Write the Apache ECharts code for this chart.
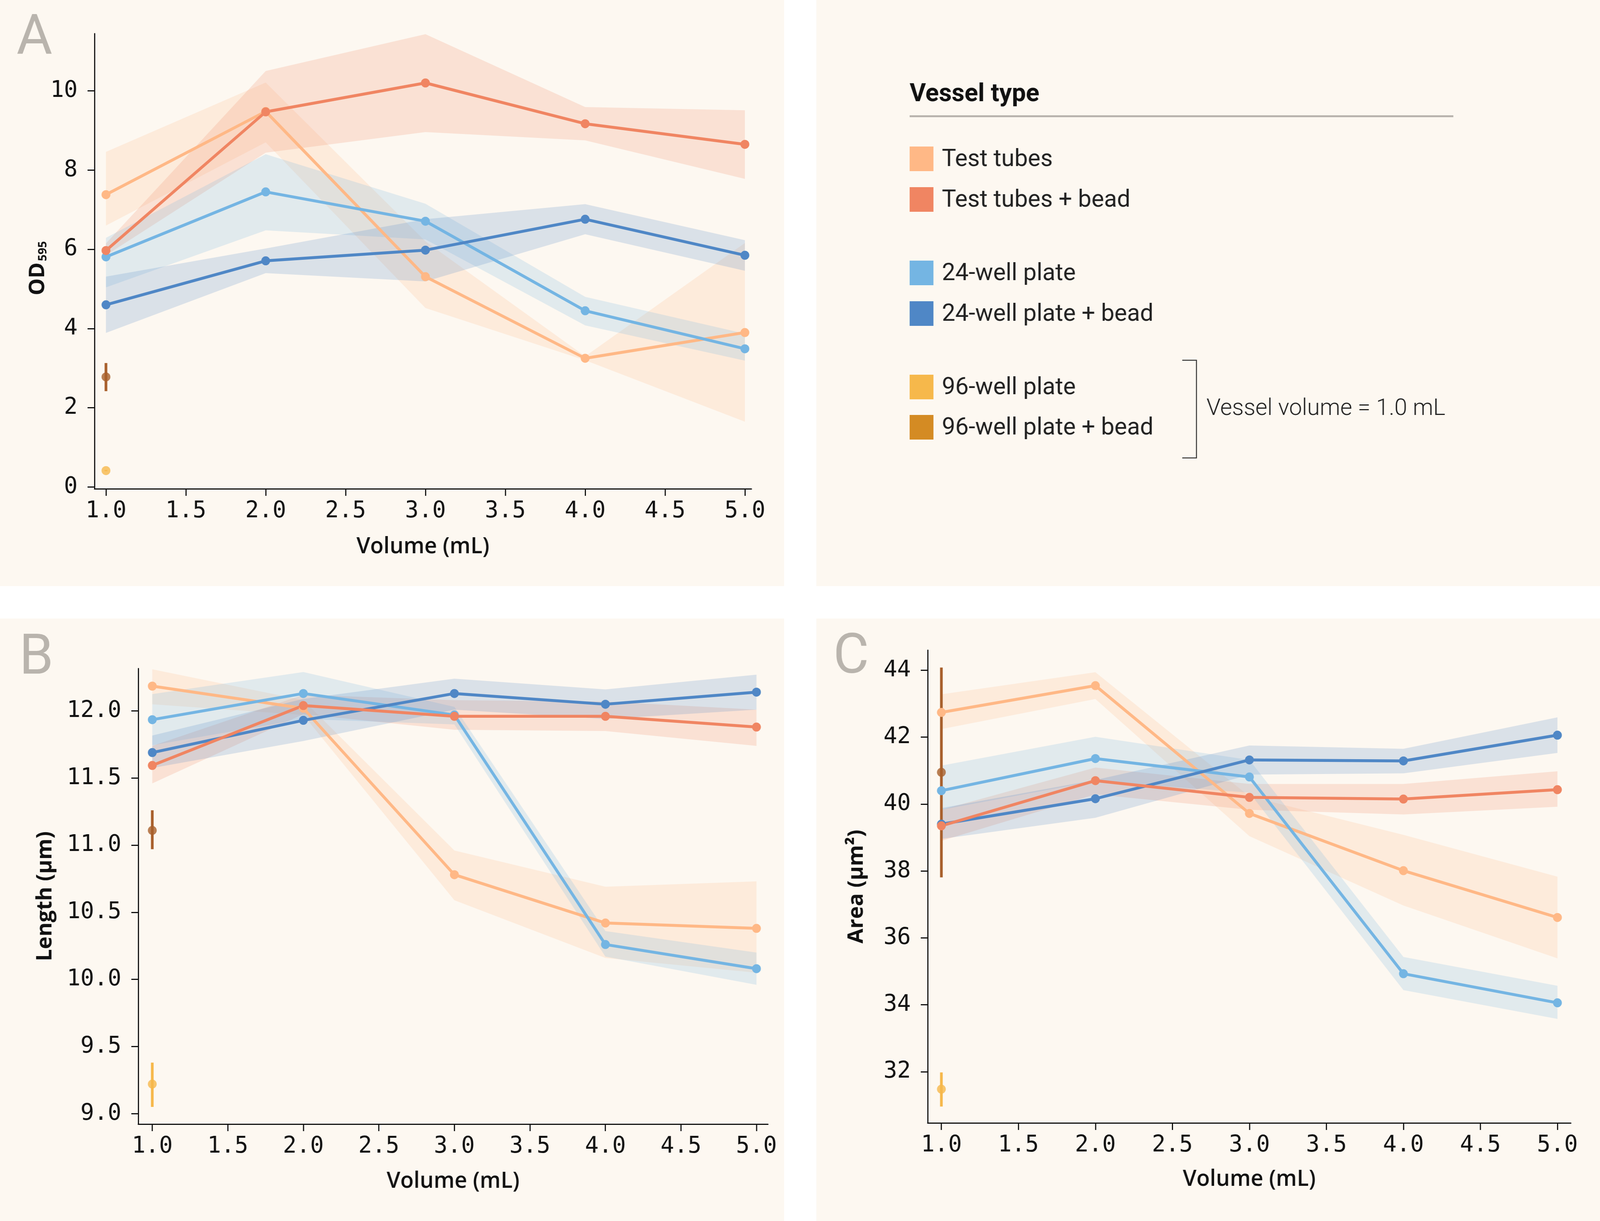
<!DOCTYPE html>
<html>
<head>
<meta charset="utf-8">
<script src="https://cdn.jsdelivr.net/npm/echarts@6/dist/echarts.min.js"></script>
<style>
  html, body { margin: 0; padding: 0; background: #fff; overflow: hidden; }
  #chart { width: 4167px; height: 3125px; transform-origin: 0 0; }
</style>
</head>
<body>
<div id="chart"></div>
<script>
// volumes (mL) on the x axis
var vols = [1, 2, 3, 4, 5];
var xTicks = [1, 1.5, 2, 2.5, 3, 3.5, 4, 4.5, 5];

// ---- panel A: OD595 ----
var odTubes = [7.38, 9.48, 5.31, 3.25, 3.90];
var odTubesLo = [6.60, 8.70, 4.52, 3.20, 1.65];
var odTubesHi = [8.46, 10.21, 6.20, 3.30, 6.16];
var odTubesBead = [5.97, 9.47, 10.20, 9.17, 8.65];
var odTubesBeadLo = [5.85, 8.44, 8.96, 8.75, 7.78];
var odTubesBeadHi = [6.15, 10.50, 11.43, 9.59, 9.51];
var odWell24 = [5.81, 7.45, 6.71, 4.45, 3.49];
var odWell24Lo = [5.04, 6.48, 6.25, 4.08, 3.19];
var odWell24Hi = [6.29, 8.40, 7.15, 4.80, 3.87];
var odWell24Bead = [4.60, 5.71, 5.98, 6.76, 5.85];
var odWell24BeadLo = [3.89, 5.40, 5.19, 6.38, 5.46];
var odWell24BeadHi = [5.31, 6.02, 6.76, 7.14, 6.23];
var odWell96 = [0.415, 0.40, 0.43];       // mean, lo, hi at 1.0 mL
var odWell96Bead = [2.78, 2.42, 3.13];
var odTicks = [0, 2, 4, 6, 8, 10];

// ---- panel B: length (um) ----
var lenTubes = [12.185, 12.02, 10.78, 10.42, 10.38];
var lenTubesLo = [12.05, 11.97, 10.59, 10.16, 10.05];
var lenTubesHi = [12.31, 12.08, 10.96, 10.69, 10.73];
var lenTubesBead = [11.594, 12.04, 11.96, 11.96, 11.88];
var lenTubesBeadLo = [11.46, 11.976, 11.86, 11.85, 11.74];
var lenTubesBeadHi = [11.74, 12.12, 12.08, 12.07, 12.01];
var lenWell24 = [11.935, 12.13, 11.97, 10.26, 10.08];
var lenWell24Lo = [11.745, 11.94, 11.90, 10.17, 9.96];
var lenWell24Hi = [12.125, 12.29, 12.03, 10.36, 10.20];
var lenWell24Bead = [11.69, 11.93, 12.13, 12.05, 12.14];
var lenWell24BeadLo = [11.575, 11.776, 12.01, 11.94, 12.01];
var lenWell24BeadHi = [11.817, 12.09, 12.24, 12.16, 12.27];
var lenWell96 = [9.22, 9.05, 9.38];
var lenWell96Bead = [11.11, 10.97, 11.26];
var lenTicks = [9.0, 9.5, 10.0, 10.5, 11.0, 11.5, 12.0];

// ---- panel C: area (um^2) ----
var areaTubes = [42.74, 43.54, 39.72, 38.01, 36.61];
var areaTubesLo = [42.24, 43.14, 39.04, 36.97, 35.39];
var areaTubesHi = [43.28, 43.94, 40.23, 39.08, 37.83];
var areaTubesBead = [39.35, 40.70, 40.20, 40.15, 40.43];
var areaTubesBeadLo = [38.90, 40.29, 39.83, 39.69, 39.92];
var areaTubesBeadHi = [39.83, 41.09, 40.60, 40.60, 40.98];
var areaWell24 = [40.40, 41.36, 40.81, 34.93, 34.06];
var areaWell24Lo = [39.83, 40.69, 40.34, 34.44, 33.58];
var areaWell24Hi = [41.15, 42.01, 41.32, 35.43, 34.57];
var areaWell24Bead = [39.40, 40.16, 41.32, 41.29, 42.06];
var areaWell24BeadLo = [38.96, 39.59, 40.88, 40.92, 41.53];
var areaWell24BeadHi = [39.88, 40.72, 41.75, 41.65, 42.59];
var areaWell96 = [31.48, 30.96, 31.98];
var areaWell96Bead = [40.95, 37.81, 44.08];
var areaTicks = [32, 34, 36, 38, 40, 42, 44];

var legendNames = ['Test tubes', 'Test tubes + bead', '24-well plate', '24-well plate + bead', '96-well plate', '96-well plate + bead'];

var C_TUBES = '#ffb886', C_TUBES_B = '#f08562', C_W24 = '#74b5e3', C_W24_B = '#4f87c6';
var C_W96 = '#f6b84b', C_W96_B = '#a85f2b', C_W96_B_LEG = '#d48b23';
var BG = '#fdf8f1';
var MONO = '"DejaVu Sans Mono", "Liberation Mono", monospace';
var SANS = '"Open Sans", "DejaVu Sans", sans-serif';
var LEG = 'Roboto, "Open Sans", sans-serif';

function hexA(hex, a) {
  var n = parseInt(hex.slice(1), 16);
  return 'rgba(' + (n >> 16) + ',' + ((n >> 8) & 255) + ',' + (n & 255) + ',' + a + ')';
}

function band(idx, lo, hi, color) {
  return {
    type: 'custom', xAxisIndex: idx, yAxisIndex: idx, silent: true, z: 1,
    data: vols.map(function (v, i) { return [v, lo[i], hi[i]]; }),
    renderItem: function (params, api) {
      if (params.dataIndex !== 0) return null;
      var pts = [], i;
      for (i = 0; i < vols.length; i++) pts.push(api.coord([vols[i], hi[i]]));
      for (i = vols.length - 1; i >= 0; i--) pts.push(api.coord([vols[i], lo[i]]));
      return { type: 'polygon', shape: { points: pts }, style: { fill: hexA(color, 0.2) } };
    }
  };
}

function line(idx, name, vals, color) {
  return {
    type: 'line', name: name, xAxisIndex: idx, yAxisIndex: idx, z: 3,
    data: vols.map(function (v, i) { return [v, vals[i]]; }),
    symbol: 'circle', symbolSize: 23, showSymbol: true,
    lineStyle: { color: color, width: 7.5 },
    itemStyle: { color: color }
  };
}

function errorBar(idx, stat, color) {
  return {
    type: 'custom', xAxisIndex: idx, yAxisIndex: idx, silent: true, z: 3,
    data: [[1, stat[1], stat[2]]],
    renderItem: function (params, api) {
      var a = api.coord([api.value(0), api.value(1)]);
      var b = api.coord([api.value(0), api.value(2)]);
      return { type: 'line', shape: { x1: a[0], y1: a[1], x2: b[0], y2: b[1] },
               style: { stroke: color, lineWidth: 7 } };
    }
  };
}

function point(idx, name, stat, color) {
  return {
    type: 'scatter', name: name, xAxisIndex: idx, yAxisIndex: idx, z: 4,
    data: [[1, stat[0]]], symbolSize: 23, itemStyle: { color: color }
  };
}

function panel(idx, m, w96, w96b) {
  // m = [[mean, lo, hi] tubes, tubes bead, 24, 24 bead]
  var cols = [C_TUBES, C_TUBES_B, C_W24, C_W24_B];
  var s = [];
  [0, 1, 2, 3].forEach(function (k) { s.push(band(idx, m[k][1], m[k][2], cols[k])); });
  [0, 2, 3, 1].forEach(function (k) { s.push(line(idx, legendNames[k], m[k][0], cols[k])); });
  s.push(errorBar(idx, w96, C_W96), point(idx, legendNames[4], w96, C_W96));
  s.push(errorBar(idx, w96b, C_W96_B), point(idx, legendNames[5], w96b, C_W96_B));
  return s;
}

var series = [].concat(
  panel(0, [[odTubes, odTubesLo, odTubesHi], [odTubesBead, odTubesBeadLo, odTubesBeadHi],
            [odWell24, odWell24Lo, odWell24Hi], [odWell24Bead, odWell24BeadLo, odWell24BeadHi]],
        odWell96, odWell96Bead),
  panel(1, [[lenTubes, lenTubesLo, lenTubesHi], [lenTubesBead, lenTubesBeadLo, lenTubesBeadHi],
            [lenWell24, lenWell24Lo, lenWell24Hi], [lenWell24Bead, lenWell24BeadLo, lenWell24BeadHi]],
        lenWell96, lenWell96Bead),
  panel(2, [[areaTubes, areaTubesLo, areaTubesHi], [areaTubesBead, areaTubesBeadLo, areaTubesBeadHi],
            [areaWell24, areaWell24Lo, areaWell24Hi], [areaWell24Bead, areaWell24BeadLo, areaWell24BeadHi]],
        areaWell96, areaWell96Bead)
);

var axisLine = { show: true, onZero: false, lineStyle: { color: '#111', width: 3 } };
var axisTickBase = { show: true, length: 18, lineStyle: { color: '#111', width: 3 } };

function xAxis(idx, min, max, gap) {
  return {
    type: 'value', gridIndex: idx, min: min, max: max,
    name: 'Volume (mL)', nameLocation: 'middle', nameGap: gap,
    nameTextStyle: { fontFamily: SANS, fontWeight: 600, fontSize: 57, color: '#111' },
    axisLine: axisLine, splitLine: { show: false },
    axisTick: Object.assign({ customValues: xTicks }, axisTickBase),
    axisLabel: { customValues: xTicks, margin: 28, fontFamily: MONO, fontSize: 59, color: '#111',
                 formatter: function (v) { return v.toFixed(1); } }
  };
}

function yAxis(idx, min, max, ticks, name, gap, fmt, extra) {
  return {
    type: 'value', gridIndex: idx, min: min, max: max,
    name: name, nameLocation: 'middle', nameGap: gap, nameRotate: 90,
    nameTextStyle: Object.assign({ fontFamily: SANS, fontWeight: 'bold', fontSize: 55, color: '#111' }, extra || {}),
    axisLine: axisLine, splitLine: { show: false },
    axisTick: Object.assign({ customValues: ticks }, axisTickBase),
    axisLabel: { customValues: ticks, margin: 44, fontFamily: MONO, fontSize: 59, color: '#111', formatter: fmt }
  };
}

var intFmt = function (v) { return String(v); };
var oneDec = function (v) { return v.toFixed(1); };

// hand-built legend (grouped, with bracket note)
var legendY = [406, 510, 698, 802, 990, 1093];
var legendCols = [C_TUBES, C_TUBES_B, C_W24, C_W24_B, C_W96, C_W96_B_LEG];
var graphic = [
  { type: 'rect', z: -10, shape: { x: 0, y: 0, width: 2042, height: 1500 }, style: { fill: BG } },
  { type: 'rect', z: -10, shape: { x: 2126, y: 0, width: 2041, height: 1500 }, style: { fill: BG } },
  { type: 'rect', z: -10, shape: { x: 0, y: 1583, width: 2042, height: 1542 }, style: { fill: BG } },
  { type: 'rect', z: -10, shape: { x: 2126, y: 1583, width: 2041, height: 1542 }, style: { fill: BG } },
  { type: 'text', z: 10, x: 43, y: 102, style: { text: 'A', fontFamily: LEG, fontSize: 143, fill: '#b9b4ad', verticalAlign: 'middle' } },
  { type: 'text', z: 10, x: 50, y: 1688, style: { text: 'B', fontFamily: LEG, fontSize: 143, fill: '#b9b4ad', verticalAlign: 'middle' } },
  { type: 'text', z: 10, x: 2170, y: 1686, style: { text: 'C', fontFamily: LEG, fontSize: 143, fill: '#b9b4ad', verticalAlign: 'middle' } },
  { type: 'text', z: 10, x: 2369, y: 243, style: { text: 'Vessel type', fontFamily: LEG, fontWeight: 'bold', fontSize: 65, fill: '#111', verticalAlign: 'middle' } },
  { type: 'rect', z: 10, shape: { x: 2369, y: 295, width: 1416, height: 5 }, style: { fill: '#b9b4ae' } },
  { type: 'polyline', z: 10, shape: { points: [[3079, 922], [3116, 922], [3116, 1172], [3079, 1172]] },
    style: { stroke: '#333', lineWidth: 2.5, fill: null } },
  { type: 'text', z: 10, x: 3142, y: 1047, style: { text: 'Vessel volume = 1.0 mL', fontFamily: LEG, fontWeight: 300, fontSize: 60, fill: '#222', verticalAlign: 'middle' } }
];
legendNames.forEach(function (n, i) {
  graphic.push({ type: 'rect', z: 10, shape: { x: 2369, y: legendY[i] - 31, width: 62, height: 63 }, style: { fill: legendCols[i] } });
  graphic.push({ type: 'text', z: 10, x: 2453, y: legendY[i] + 3, style: { text: n, fontFamily: LEG, fontSize: 62, fill: '#222', verticalAlign: 'middle' } });
});

var el = document.getElementById('chart');
// fit the 4167-wide drawing into the actual viewport width
var cw = document.documentElement.clientWidth || 4167;
if (cw < 4167) el.style.transform = 'scaleX(' + (cw / 4167) + ')';

var chart = echarts.init(el);
chart.setOption({
  animation: false,
  backgroundColor: '#ffffff',
  grid: [
    { left: 246, top: 86, width: 1711, height: 1165 },
    { left: 360, top: 1711, width: 1640, height: 1166 },
    { left: 2416, top: 1664, width: 1675, height: 1210 }
  ],
  xAxis: [xAxis(0, 0.928, 5.041, 120), xAxis(1, 0.907, 5.076, 118), xAxis(2, 0.911, 5.087, 116)],
  yAxis: [
    yAxis(0, -0.044, 11.445, odTicks, '{a|OD}{b|595}', 94, intFmt, {
      padding: [0, 36, 0, 0],
      rich: {
        a: { fontFamily: SANS, fontWeight: 'bold', fontSize: 55, color: '#111' },
        b: { fontFamily: SANS, fontSize: 30, color: '#111', verticalAlign: 'bottom', padding: [0, 0, 0, 3] }
      }
    }),
    yAxis(1, 8.922, 12.316, lenTicks, 'Length (µm)', 214, oneDec),
    yAxis(2, 30.47, 44.6, areaTicks, 'Area (µm²)', 157, intFmt)
  ],
  graphic: graphic,
  series: series
});
</script>
</body>
</html>
